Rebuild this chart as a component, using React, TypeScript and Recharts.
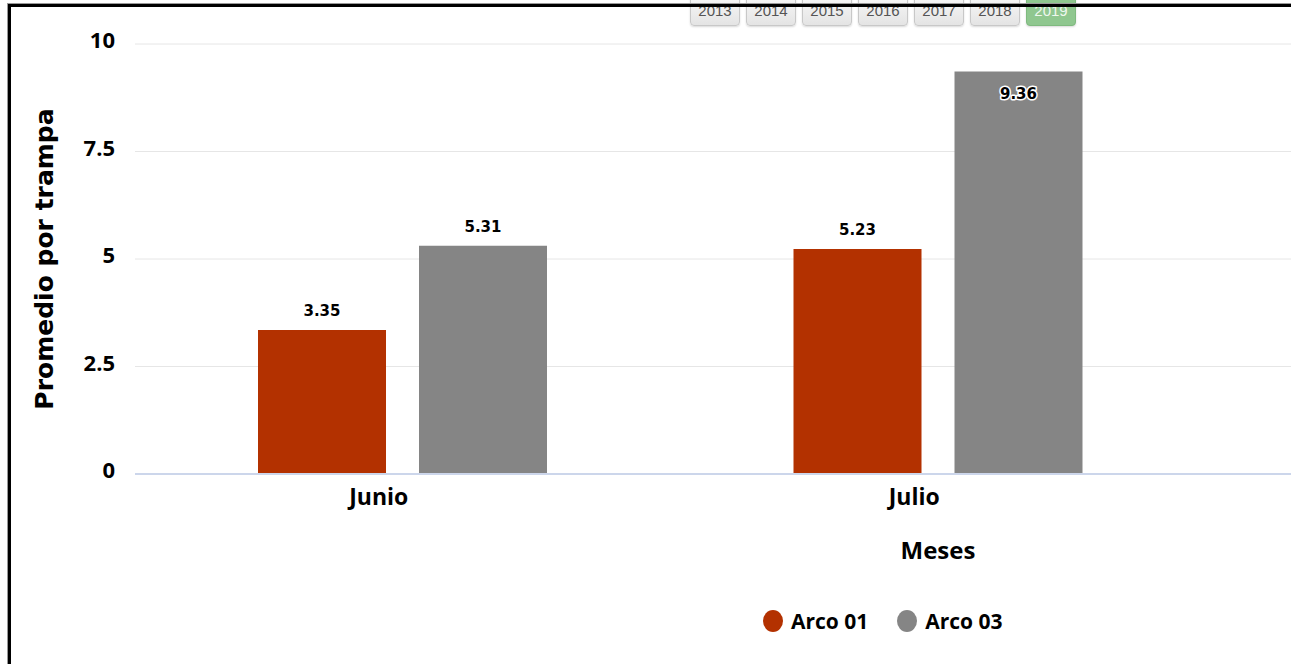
import React from 'react'
import {
  BarChart, Bar, XAxis, YAxis, CartesianGrid, Legend, LabelList,
} from 'recharts'

const months = ['Junio', 'Julio']
const arco01 = [3.35, 5.23]
const arco03 = [5.31, 9.36]
const yTicks = [0, 2.5, 5, 7.5, 10]
const years = ['2013', '2014', '2015', '2016', '2017', '2018', '2019']

const RED = '#b33100'
const GRAY = '#858585'
const FONT = '"Open Sans", "Noto Sans", sans-serif'

const data = months.map((m, i) => ({ month: m, a1: arco01[i], a3: arco03[i] }))

function XTick({ x, y, payload }: any) {
  return (
    <text x={x - 24} y={y + 23} textAnchor="middle" fontFamily={FONT} fontWeight={700} fontSize={23} fill="#000">
      {payload.value}
    </text>
  )
}

function YTick({ x, y, payload }: any) {
  return (
    <text x={x} y={y + 4} textAnchor="end" fontFamily={FONT} fontWeight={700} fontSize={22} fill="#000">
      {String(payload.value)}
    </text>
  )
}

// Highcharts-style data label: dark text with a white halo, pushed inside when it would clip
function ValueLabel({ x, y, width, value }: any) {
  const inside = y < 95
  const ty = inside ? y + 27 : y - 14
  return (
    <text
      x={x + width / 2} y={ty} textAnchor="middle"
      fontFamily='"DejaVu Sans", sans-serif' fontWeight={700} fontSize={15}
      fill="#000" stroke="#fff" strokeWidth={3} paintOrder="stroke" strokeLinejoin="round"
    >
      {value}
    </text>
  )
}

function LegendContent({ payload }: any) {
  return (
    <div style={{ display: 'flex', alignItems: 'center', fontFamily: FONT, fontWeight: 700, fontSize: 21, color: '#000' }}>
      {(payload ?? []).map((p: any, i: number) => (
        <div key={i} style={{ display: 'flex', alignItems: 'center', marginRight: i === 0 ? 29 : 0 }}>
          <span style={{ width: 20, height: 22, borderRadius: '50%', background: p.color, display: 'inline-block', marginRight: 8 }} />
          <span>{p.value}</span>
        </div>
      ))}
    </div>
  )
}

export default function App() {
  return (
    <div style={{ position: 'fixed', left: 0, top: 0, width: 1291, height: 664, background: '#fff', overflow: 'hidden' }}>
      {/* year selector buttons, cut off at the top */}
      <div style={{ position: 'absolute', left: 690, top: -8, display: 'flex' }}>
        {years.map((yr) => {
          const active = yr === '2019'
          return (
            <div key={yr} style={{
              width: 50, height: 34, marginRight: 6, boxSizing: 'border-box',
              borderRadius: 4, border: active ? '1px solid #7fba7f' : '1px solid #c8c8c8',
              background: active ? '#8fc78f' : 'linear-gradient(#fafafa, #e4e4e4)',
              boxShadow: '0 1px 2px rgba(0,0,0,0.15)',
              color: active ? '#eef7ee' : '#555', fontFamily: 'Arial, "Liberation Sans", sans-serif', fontSize: 15,
              textAlign: 'center', lineHeight: '36px',
            }}>{yr}</div>
          )
        })}
      </div>

      <div style={{ position: 'absolute', left: 0, top: 0 }}>
        <BarChart
          width={1291} height={664} data={data}
          margin={{ top: 44, right: 0, left: 0, bottom: 0 }}
          barSize={128} barGap={33}
        >
          <CartesianGrid vertical={false} stroke="#e6e6e6" />
          <XAxis
            dataKey="month" height={190} tick={<XTick />} tickLine={false}
            axisLine={{ stroke: '#ccd6eb', strokeWidth: 2 }}
            padding={{ left: 0, right: 85 }}
            label={{ value: 'Meses', position: 'insideTop', dx: 225, dy: 63, fontFamily: FONT, fontWeight: 700, fontSize: 24, fill: '#000' }}
          />
          <YAxis
            width={135} domain={[0, 10]} ticks={yTicks} interval={0}
            tick={<YTick />} tickLine={false} axisLine={false} tickSize={0} tickMargin={20}
            label={{ value: 'Promedio por trampa', angle: -90, position: 'insideLeft', dx: 39, dy: 0, style: { textAnchor: 'middle' }, fontFamily: '"DejaVu Sans", sans-serif', fontWeight: 700, fontSize: 25, fill: '#000' }}
          />
          <Legend
            verticalAlign="middle" align="center" layout="horizontal" content={<LegendContent />}
            wrapperStyle={{ left: 763, top: 607, width: 300 }}
          />
          <Bar dataKey="a1" name="Arco 01" fill={RED} isAnimationActive={false}>
            <LabelList dataKey="a1" content={<ValueLabel />} />
          </Bar>
          <Bar dataKey="a3" name="Arco 03" fill={GRAY} isAnimationActive={false}>
            <LabelList dataKey="a3" content={<ValueLabel />} />
          </Bar>
        </BarChart>
      </div>

      {/* screenshot frame */}
      <div style={{ position: 'absolute', left: 8, top: 4, width: 1400, height: 800, borderTop: '3px solid #000', borderLeft: '3px solid #000', boxShadow: '-1px -1px 0 #999', pointerEvents: 'none' }} />
    </div>
  )
}
